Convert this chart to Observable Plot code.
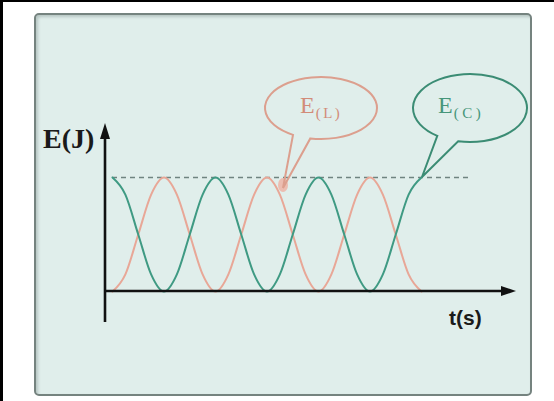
<!DOCTYPE html>
<html><head><meta charset="utf-8">
<script src="https://cdn.jsdelivr.net/npm/d3@7"></script>
<script src="https://cdn.jsdelivr.net/npm/@observablehq/plot@0.6"></script>
<style>
html,body{margin:0;padding:0;background:#fff;}
#wrap{position:relative;width:554px;height:401px;overflow:hidden;}
#frame{position:absolute;left:0;top:0;width:551px;height:399px;border-left:3px solid #000;border-top:2px solid #000;}
#panel{position:absolute;left:34px;top:13px;width:494px;height:379px;background:#e0eeeb;border:2px solid #75837f;border-radius:5px;box-shadow:inset 2px 2px 3px rgba(90,110,105,0.3);}
#chart{position:absolute;left:0;top:0;}
</style></head>
<body><div id="wrap"><div id="frame"></div><div id="panel"></div><div id="chart"></div></div>
<script>
// time in units of the energy period (three periods shown)
const time = [0,0.125,0.25,0.375,0.5,0.625,0.75,0.875,1,1.125,1.25,1.375,1.5,1.625,1.75,1.875,2,2.125,2.25,2.375,2.5,2.625,2.75,2.875,3];
// capacitor energy E(C), fraction of the maximum (dashed line)
const energyC = [1,0.85,0.5,0.15,0,0.15,0.5,0.85,1,0.85,0.5,0.15,0,0.15,0.5,0.85,1,0.85,0.5,0.15,0,0.15,0.5,0.85,1];
// coil energy E(L)
const energyL = [0,0.15,0.5,0.85,1,0.85,0.5,0.15,0,0.15,0.5,0.85,1,0.85,0.5,0.15,0,0.15,0.5,0.85,1,0.85,0.5,0.15,0];
const maxEnergy = [1];
const axisLabels = {y: "E(J)", x: "t(s)"};
const bubbleLabels = {L: "(L)", C: "(C)"};

const rowsC = time.map((t, i) => ({t, E: energyC[i]}));
const rowsL = time.map((t, i) => ({t, E: energyL[i]}));

const green = "#3f9a83", red = "#e8a797";

const plot = Plot.plot({
  width: 554, height: 401,
  x: {domain: [0, 3], range: [112, 421], axis: null},
  y: {domain: [0, 1], range: [291, 177], axis: null},
  style: {background: "transparent", overflow: "visible"},
  marks: [
    Plot.ruleY(maxEnergy, {x1: 0, x2: 3.48, stroke: "#6f8480", strokeDasharray: "5,4", strokeWidth: 1.3}),
    Plot.line(rowsL, {x: "t", y: "E", stroke: red, strokeWidth: 2, curve: "monotone-x"}),
    Plot.line(rowsC, {x: "t", y: "E", stroke: green, strokeWidth: 2, curve: "monotone-x"})
  ]
});

const X = plot.scale("x"), Y = plot.scale("y");
const svg = d3.select(plot);
const g = svg.append("g").attr("text-anchor", "start");

// axes with filled arrowheads
const ox = X.apply(0) - 7, oy = Y.apply(0);
g.append("line").attr("x1", ox).attr("x2", ox).attr("y1", oy + 31).attr("y2", 136)
  .attr("stroke", "#111").attr("stroke-width", 2.6);
g.append("path").attr("d", `M${ox},123 L${ox - 5},139 L${ox + 5},139 Z`).attr("fill", "#111");
g.append("line").attr("x1", ox - 1).attr("x2", 504).attr("y1", oy).attr("y2", oy)
  .attr("stroke", "#111").attr("stroke-width", 2.6);
g.append("path").attr("d", `M516,${oy} L501,${oy - 5} L501,${oy + 5} Z`).attr("fill", "#111");

g.append("text").attr("x", 43).attr("y", 148).text(axisLabels.y).attr("text-anchor", "start")
  .attr("font-family", "Liberation Serif, serif").attr("font-weight", "bold").attr("font-size", 28).attr("fill", "#1a1a1a");
g.append("text").attr("x", 449).attr("y", 325).text(axisLabels.x).attr("text-anchor", "start")
  .attr("font-family", "Liberation Sans, sans-serif").attr("font-weight", "bold").attr("font-size", 21).attr("fill", "#1a1a1a");

// speech bubbles
function bubble(cx, cy, rx, ry, a1, a2, tx, ty) {
  const p = a => [cx + rx * Math.cos(a * Math.PI / 180), cy + ry * Math.sin(a * Math.PI / 180)];
  const [x1, y1] = p(a1), [x2, y2] = p(a2);
  return `M${x1},${y1} A${rx},${ry} 0 1 0 ${x2},${y2} L${tx},${ty} Z`;
}
const redTip = [283, 188], greenTip = [422, 177];
g.append("ellipse").attr("cx", redTip[0]).attr("cy", redTip[1] - 3).attr("rx", 5).attr("ry", 7)
  .attr("fill", "#f1a898").attr("opacity", 0.7);
g.append("path").attr("d", bubble(321, 108, 56, 31, 101, 120, redTip[0], redTip[1]))
  .attr("fill", "none").attr("stroke", "#dc9f8e").attr("stroke-width", 2);
g.append("path").attr("d", bubble(470, 108, 57, 34, 102, 125, greenTip[0], greenTip[1]))
  .attr("fill", "none").attr("stroke", "#3b8c74").attr("stroke-width", 2);

function label(x, y, sub, color, spacing) {
  const tx = g.append("text").attr("font-family", "Liberation Serif, serif").attr("fill", color)
    .attr("text-anchor", "start").attr("x", x).attr("y", y).attr("font-size", 24);
  tx.append("tspan").text("E");
  tx.append("tspan").attr("dx", 1).attr("dy", 5).attr("font-size", 15)
    .attr("letter-spacing", spacing).text(sub);
}
label(300, 113, bubbleLabels.L, "#d28c79", 2.5);
label(438, 113, bubbleLabels.C, "#46967a", 3.5);

document.getElementById("chart").append(plot);
</script>
</body></html>
